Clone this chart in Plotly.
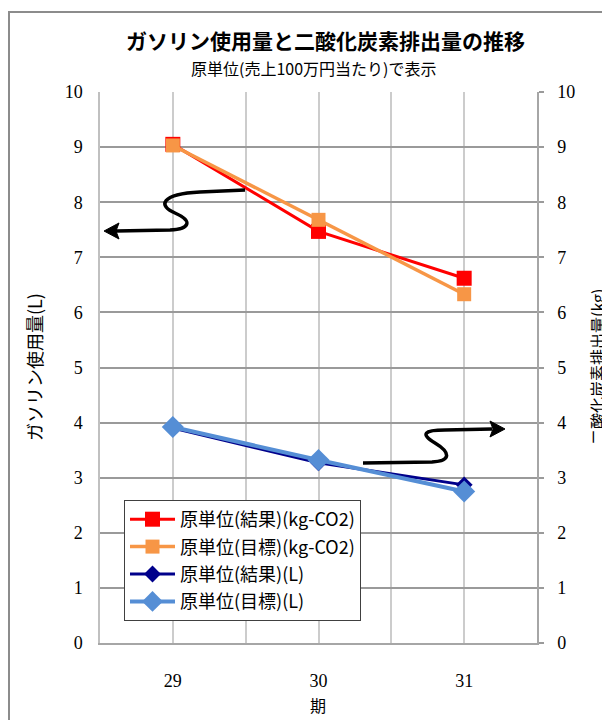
import plotly.graph_objects as go

# ---- data ----
periods = [29, 30, 31]
period_labels = ["29", "30", "31"]
co2_result = [9.05, 7.47, 6.62]
co2_target = [9.03, 7.68, 6.33]
fuel_result = [3.90, 3.27, 2.87]
fuel_target = [3.92, 3.32, 2.75]
y_ticks = list(range(0, 11))

names = ["原単位(結果)(kg-CO2)", "原単位(目標)(kg-CO2)", "原単位(結果)(L)", "原単位(目標)(L)"]
title_text = "ガソリン使用量と二酸化炭素排出量の推移"
subtitle_text = "原単位(売上100万円当たり)で表示"
left_title = "ガソリン使用量(L)"
right_title = "二酸化炭素排出量(kg)"
x_title = "期"

JP = "Noto Sans CJK JP"
NUM = "Liberation Serif"

# page offset of the plot div (body margin)
OFF = 8
# plot area in page pixels
L, R, T, B = 100, 537, 92, 643
W, H = 610, 720


def fx(x):
    return (x - L) / (R - L)


def fy(y):
    return (B - y) / (B - T)


def P(x, y):
    return f"{fx(x):.4f},{fy(y):.4f}"


fig = go.Figure()
fig.add_trace(go.Scatter(x=periods, y=co2_result, name=names[0], yaxis="y2",
                         mode="lines+markers", legendgroup="a",
                         line=dict(color="#ff0000", width=3),
                         marker=dict(symbol="square", size=15, color="#ff0000")))
fig.add_trace(go.Scatter(x=periods, y=co2_target, name=names[1], yaxis="y2",
                         mode="lines+markers", legendgroup="b",
                         line=dict(color="#f79646", width=3.5),
                         marker=dict(symbol="square", size=14, color="#f79646")))
fig.add_trace(go.Scatter(x=periods, y=fuel_result, name=names[2], yaxis="y",
                         mode="lines+markers", legendgroup="c",
                         line=dict(color="#00008b", width=3),
                         marker=dict(symbol="diamond", size=13, color="#00008b")))
fig.add_trace(go.Scatter(x=periods, y=fuel_target, name=names[3], yaxis="y",
                         mode="lines+markers", legendgroup="d",
                         line=dict(color="#558ed5", width=4),
                         marker=dict(symbol="diamond", size=17, color="#558ed5")))

# decorative hand-drawn arrows
arrow1 = ("M " + P(245, 190) + " L " + P(200, 192) + " C " + P(160, 194) + " " + P(158, 206) + " " + P(175, 213)
          + " C " + P(193, 221) + " " + P(190, 229) + " " + P(170, 230) + " L " + P(116, 231))
head1 = "M " + P(104, 231) + " L " + P(119, 223) + " L " + P(116, 231) + " L " + P(119, 239) + " Z"
arrow2 = ("M " + P(363, 463) + " L " + P(432, 462) + " C " + P(452, 461) + " " + P(450, 452) + " " + P(435, 443)
          + " C " + P(420, 434) + " " + P(424, 430) + " " + P(445, 430) + " L " + P(492, 429))
head2 = "M " + P(505, 429) + " L " + P(490, 421) + " L " + P(493, 429) + " L " + P(490, 437) + " Z"

shapes = [
    dict(type="path", xref="paper", yref="paper", path=arrow1, line=dict(color="black", width=3.5)),
    dict(type="path", xref="paper", yref="paper", path=head1, line=dict(color="black", width=1), fillcolor="black"),
    dict(type="path", xref="paper", yref="paper", path=arrow2, line=dict(color="black", width=3.5)),
    dict(type="path", xref="paper", yref="paper", path=head2, line=dict(color="black", width=1), fillcolor="black"),
    dict(type="rect", xref="paper", yref="paper",
         x0=fx(9), x1=fx(640), y0=fy(740), y1=fy(12),
         line=dict(color="#8c8c8c", width=2), fillcolor="rgba(0,0,0,0)", layer="below"),
]

annotations = [
    dict(text=f"<b>{title_text}</b>", xref="paper", yref="paper", x=fx(325), y=fy(40),
         showarrow=False, font=dict(family=JP, size=21, color="black"), xanchor="center", yanchor="middle"),
    dict(text=subtitle_text, xref="paper", yref="paper", x=fx(313), y=fy(68),
         showarrow=False, font=dict(family=JP, size=16, color="black"), xanchor="center", yanchor="middle"),
    dict(text=left_title, xref="paper", yref="paper", x=fx(34), y=fy(367),
         showarrow=False, textangle=-90, font=dict(family=JP, size=18, color="black"),
         xanchor="center", yanchor="middle"),
    dict(text=right_title, xref="paper", yref="paper", x=fx(597), y=fy(367),
         showarrow=False, textangle=-90, font=dict(family=JP, size=16, color="black"),
         xanchor="center", yanchor="middle"),
    dict(text=x_title, xref="paper", yref="paper", x=fx(318), y=fy(705),
         showarrow=False, font=dict(family=JP, size=16, color="black"), xanchor="center", yanchor="middle"),
]

fig.update_layout(
    width=W, height=H, autosize=False,
    margin=dict(l=L - OFF, r=W - R + OFF, t=T - OFF, b=H - B + OFF),
    paper_bgcolor="white", plot_bgcolor="white",
    shapes=shapes, annotations=annotations,
    showlegend=True,
    legend=dict(x=fx(124), y=fy(500), xanchor="left", yanchor="top",
                bgcolor="white", bordercolor="#404040", borderwidth=1,
                font=dict(family=JP, size=18, color="black"),
                tracegroupgap=1, itemwidth=45),
    xaxis=dict(range=[28.5, 31.5], tickvals=periods, ticktext=period_labels,
               showgrid=True, gridcolor="#cccccc", gridwidth=1.5,
               minor=dict(tick0=28.5, dtick=0.5, showgrid=True, gridcolor="#cccccc", gridwidth=1.5),
               showline=True, linecolor="#a6a6a6", linewidth=1.5, zeroline=False,
               ticks="", ticklabelstandoff=21,
               tickfont=dict(family=NUM, size=18, color="black")),
    yaxis=dict(range=[0, 10], tickvals=y_ticks, showgrid=True, gridcolor="#9a9a9a", gridwidth=1.5,
               showline=True, linecolor="#c0c0c0", linewidth=1.5, zeroline=False, ticks="",
               ticklabelstandoff=12, tickfont=dict(family=NUM, size=18, color="black")),
    yaxis2=dict(range=[0, 10], tickvals=y_ticks, overlaying="y", side="right", showgrid=False,
                showline=True, linecolor="#a6a6a6", linewidth=1.5, zeroline=False,
                ticks="outside", ticklen=5, tickcolor="#9a9a9a", tickwidth=1.5,
                ticklabelstandoff=10, tickfont=dict(family=NUM, size=18, color="black")),
)

fig.write_html("out.html")
